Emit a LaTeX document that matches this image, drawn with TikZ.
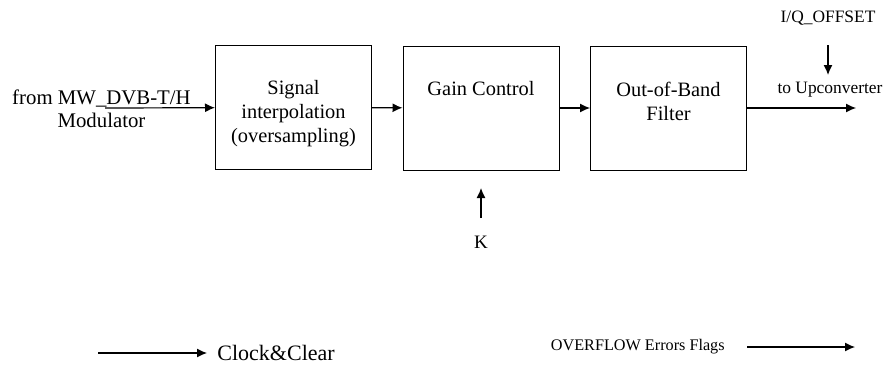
\documentclass[tikz,border=0pt]{standalone}
\usepackage{fontspec}
\setmainfont{Liberation Serif}
\usetikzlibrary{arrows.meta}
\begin{document}
\begin{tikzpicture}[x=0.5pt,y=-0.5pt,
	blk/.style={draw,line width=0.5pt,minimum width=78pt,minimum height=62pt,inner sep=0pt},
	sig/.style={line width=0.6pt,-{Latex[length=5pt,width=4.5pt]}},
	txt/.style={font=\fontsize{10.2}{12}\selectfont,align=center,inner sep=0pt},
	small/.style={font=\fontsize{8.7}{10}\selectfont,align=center,inner sep=0pt}]
		\useasboundingbox (0,0) rectangle (886,364);
		
		% Bloecke
		\node[blk] (interp) at (293.5,107.5) {};
		\node[blk] (gain) at (481,108) {};
		\node[blk] (oob) at (668.5,108) {};
		\node[txt] (interptext) at (293.5,114) {Signal\\interpolation\\(oversampling)};
		\node[txt] (gaintext) at (481,89) {Gain Control};
		\node[txt] (oobtext) at (668.5,101) {Out-of-Band\\Filter};
		
		% Eingang
		\node[txt,font=\fontsize{10.4}{11.5}\selectfont] (src) at (101.5,108.5) {from MW\_DVB-T/H\\Modulator};
		\coordinate (in) at (105,108);
		\draw[sig] (in) -- (interp);
		
		% Signalpfad
		\draw[sig] (interp) -- (gain);
		\draw[sig] (gain) -- (oob);
		
		% Ausgang
		\coordinate (out) at (856,108);
		\draw[sig] (oob) -- (out);
		\node[small] (upconv) at (830,90) {to Upconverter};
		\node[small] (iqoff) at (828,18) {I/Q\_OFFSET};
		\coordinate (iqtop) at (828,45);
		\coordinate (iqin) at (828,75);
		\draw[sig] (iqtop) -- (iqin);
		
		% Verstaerkung
		\node[small,font=\fontsize{9.5}{11}\selectfont] (k) at (481,242) {K};
		\coordinate (kbot) at (481,218);
		\coordinate (kin) at (481,188);
		\draw[sig] (kbot) -- (kin);
		
		% Takt und Fehler
		\node[txt,font=\fontsize{11}{13}\selectfont,anchor=west,inner xsep=5pt] (clk) at (207,353) {Clock\&Clear};
		\coordinate (clkin) at (98,353);
		\draw[sig] (clkin) -- (clk);
		\node[small,font=\fontsize{8.1}{10}\selectfont,anchor=east] (ovf) at (725,347) {OVERFLOW Errors Flags};
		\coordinate (ovfa) at (747,347);
		\coordinate (ovfb) at (855,347);
		\draw[sig] (ovfa) -- (ovfb);
\end{tikzpicture}
\end{document}
